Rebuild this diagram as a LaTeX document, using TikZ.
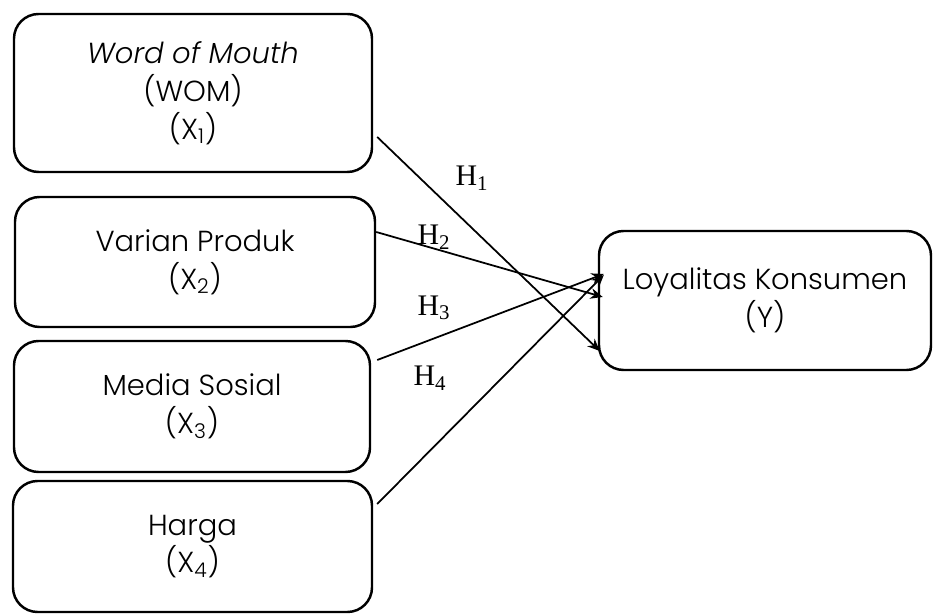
\documentclass[tikz,border=0pt]{standalone}
\usepackage{fontspec}
\setmainfont{Poppins Light}
\newfontfamily\hfont{Liberation Serif}
\usepackage{tikz}
\usetikzlibrary{shapes.geometric, arrows.meta}
\tikzstyle{arrow} = [line width=1pt,->,>={Stealth[length=7pt,width=6pt]}]

\begin{document}
\begin{tikzpicture}[x=0.02cm, y=-0.02cm]
   \tikzset{rblock/.style={draw, shape=rectangle, line width=1.4pt, rounded corners=14pt, align=center, font=\fontsize{16.5}{21.5}\selectfont, inner sep=0pt},
   hlabel/.style={font=\hfont\fontsize{17}{20}\selectfont, inner sep=0pt}
   }
 \useasboundingbox (0,0) rectangle (933,614);

 \node [rblock, minimum width=358*0.02cm, minimum height=158*0.02cm] (wom) at (193,93) {\textit{Word of Mouth}\\(WOM)\\(X\textsubscript{1})};
 \node [rblock, minimum width=360*0.02cm, minimum height=130*0.02cm] (var) at (195,262) {Varian Produk\\(X\textsubscript{2})};
 \node [rblock, minimum width=356*0.02cm, minimum height=131*0.02cm] (med) at (192,406.5) {Media Sosial\\(X\textsubscript{3})};
 \node [rblock, minimum width=359*0.02cm, minimum height=131*0.02cm] (har) at (192.5,546.5) {Harga\\(X\textsubscript{4})};

 \node [rblock, minimum width=332*0.02cm, minimum height=139*0.02cm] (loy) at (765,300.5) {Loyalitas Konsumen\\(Y)};

 \node [hlabel] (h1) at (472,178) {H\textsubscript{1}};
 \node [hlabel] (h2) at (434,237) {H\textsubscript{2}};
 \node [hlabel] (h3) at (434,308) {H\textsubscript{3}};
 \node [hlabel] (h4) at (430,378) {H\textsubscript{4}};

 \draw [arrow] ([shift={(4,44)}]wom.east) -- ([shift={(2,50.5)}]loy.west);
 \draw [arrow] ([shift={(0,-30)}]var.east) -- ([shift={(5,-3.5)}]loy.west);
 \draw [arrow] ([shift={(6,-46.5)}]med.east) -- ([shift={(6,-26.5)}]loy.west);
 \draw [arrow] ([shift={(4,-42.5)}]har.east) -- ([shift={(6,-25.5)}]loy.west);
\end{tikzpicture}
\end{document}
